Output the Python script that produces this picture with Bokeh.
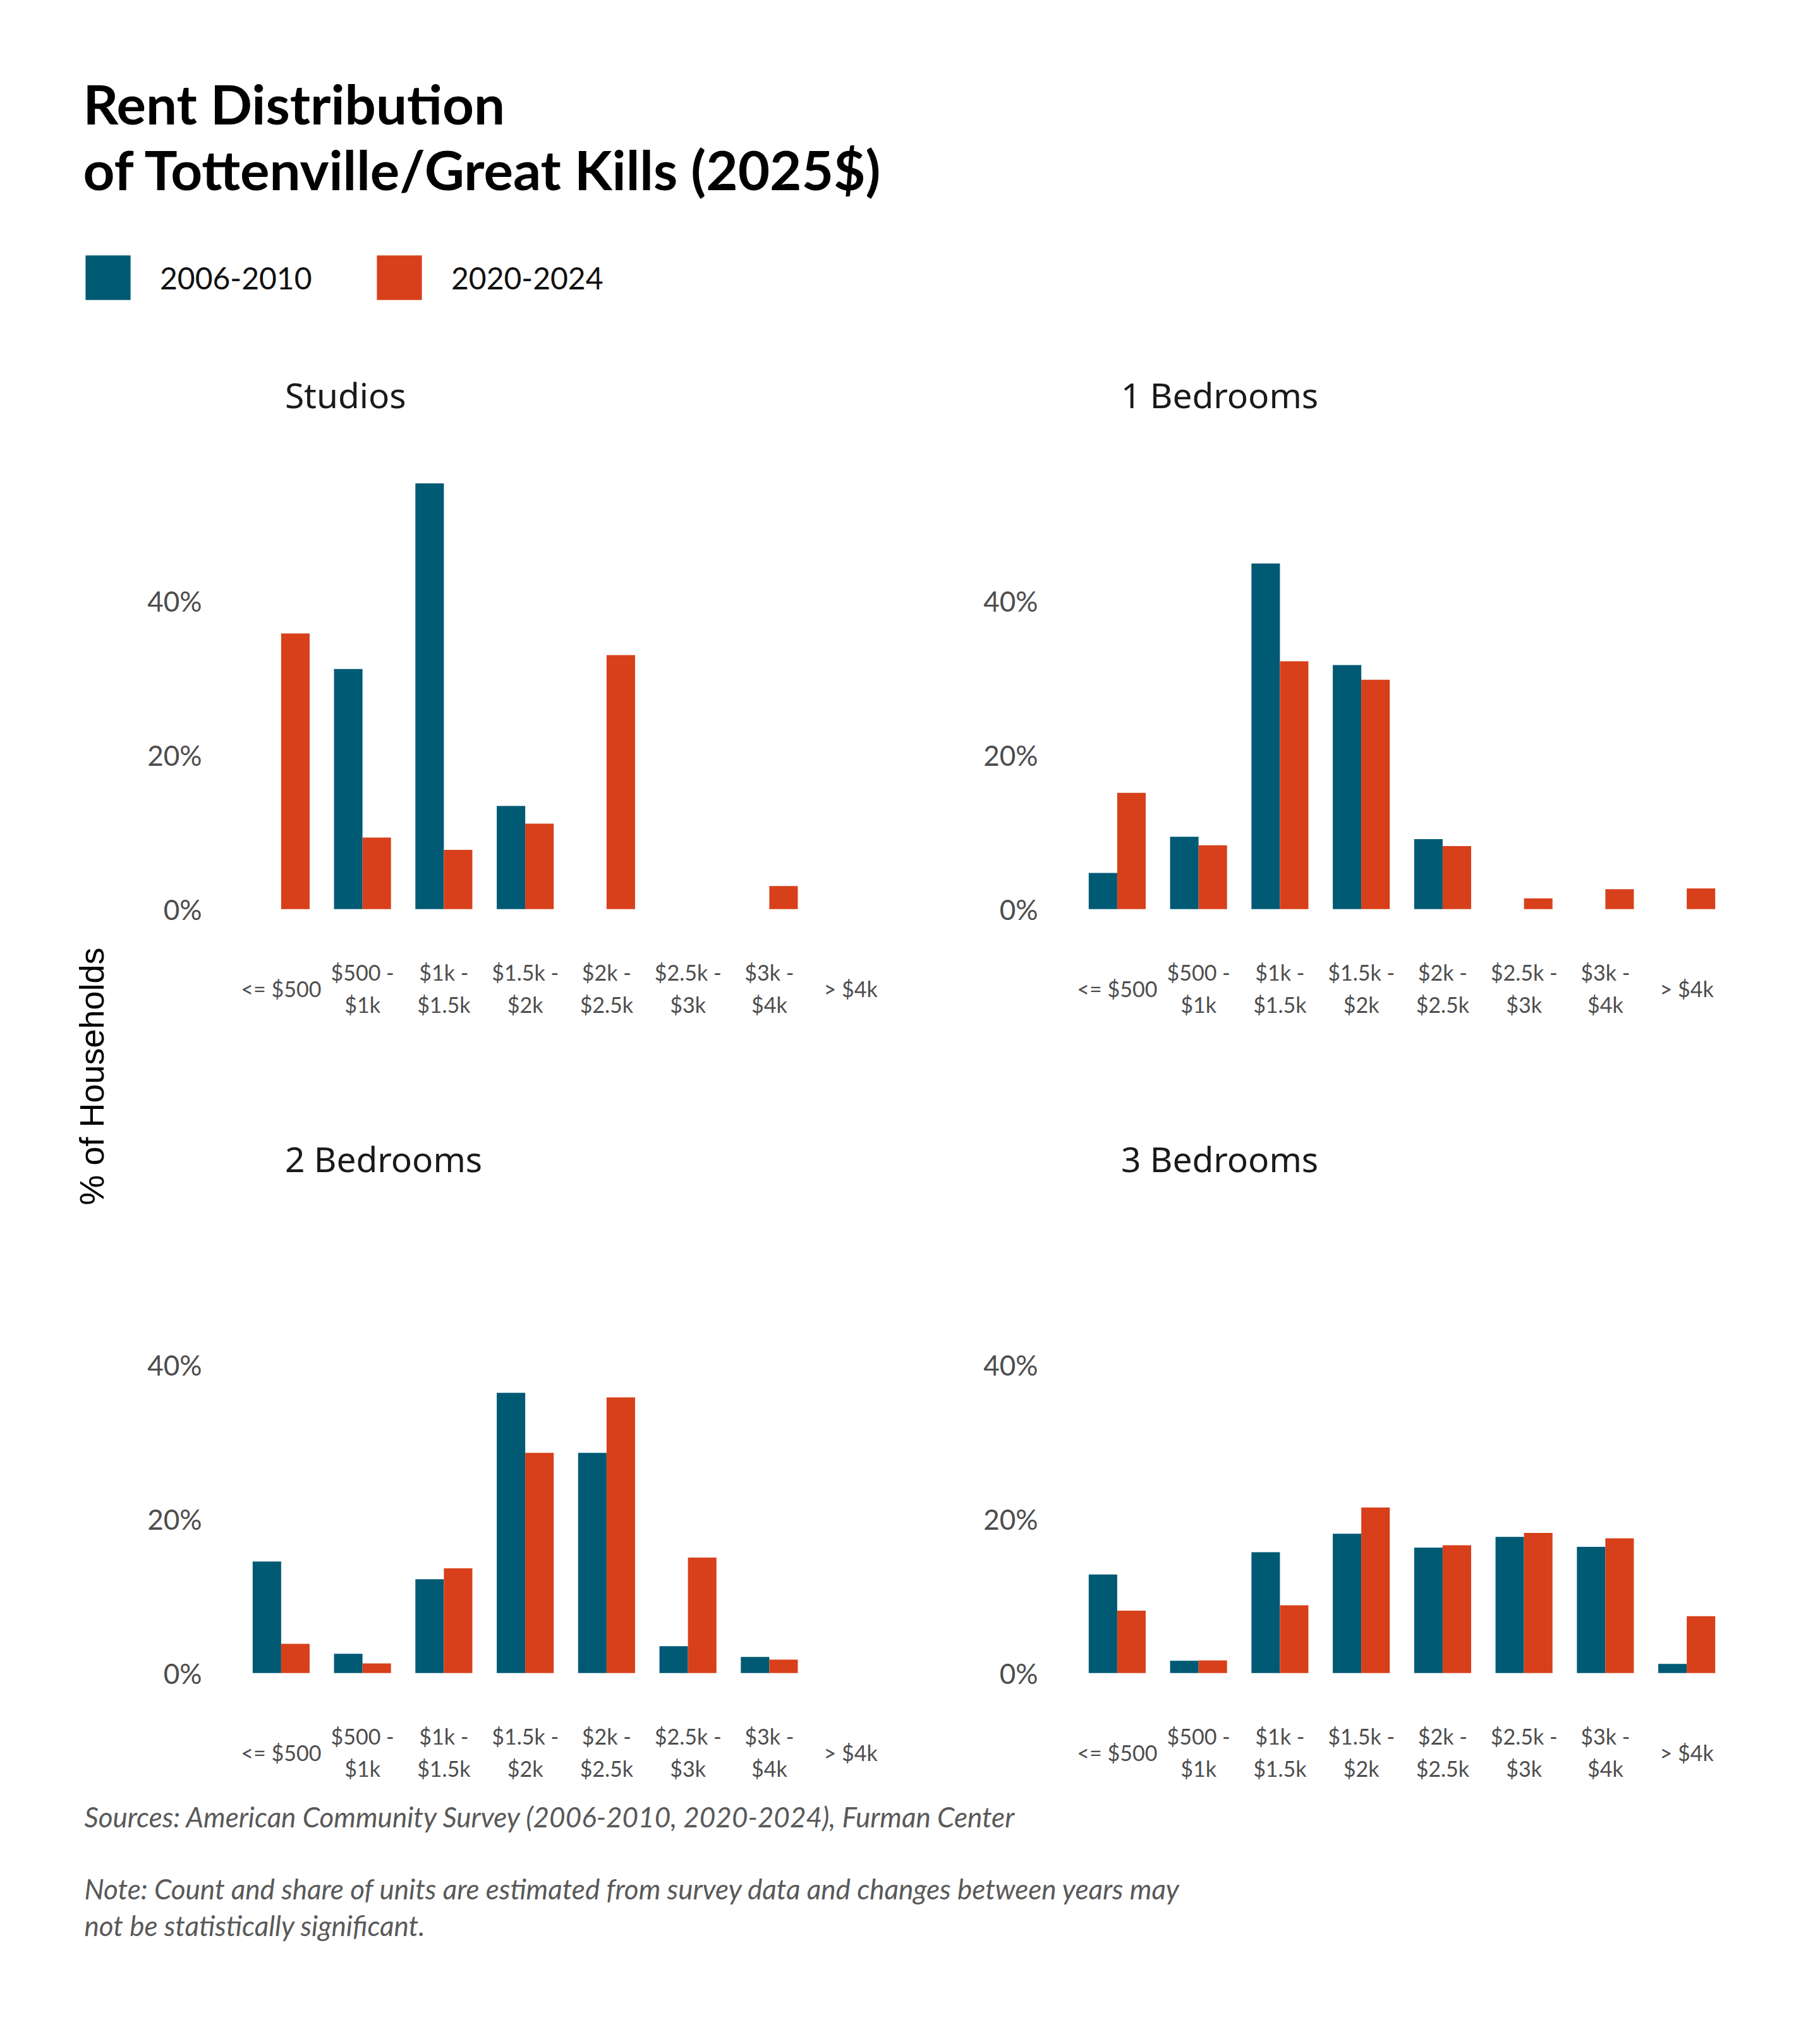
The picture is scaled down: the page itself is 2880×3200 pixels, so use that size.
import math
from bokeh.plotting import figure
from bokeh.models import (Range1d, FactorRange, ColumnDataSource, Label, Legend,
                          LegendItem, FixedTicker)
from bokeh.layouts import row, column
from bokeh.transform import dodge
from bokeh.core.properties import value
from bokeh.embed import file_html
from bokeh.resources import INLINE

# ---------------- data ----------------
categories = ["<= $500", "$500 - $1k", "$1k - $1.5k", "$1.5k - $2k",
              "$2k - $2.5k", "$2.5k - $3k", "$3k - $4k", "> $4k"]
tick_labels = ["<= $500", "$500 -\n$1k", "$1k -\n$1.5k", "$1.5k -\n$2k",
               "$2k -\n$2.5k", "$2.5k -\n$3k", "$3k -\n$4k", "> $4k"]
series_names = ["2006-2010", "2020-2024"]
panel_titles = ["Studios", "1 Bedrooms", "2 Bedrooms", "3 Bedrooms"]

studios_0610 = [0, 31.2, 55.3, 13.4, 0, 0, 0, 0]
studios_2024 = [35.8, 9.3, 7.7, 11.1, 33.0, 0, 3.0, 0]
bed1_0610 = [4.7, 9.4, 44.9, 31.7, 9.1, 0, 0, 0]
bed1_2024 = [15.1, 8.3, 32.2, 29.8, 8.2, 1.4, 2.6, 2.7]
bed2_0610 = [14.5, 2.5, 12.2, 36.4, 28.6, 3.5, 2.1, 0]
bed2_2024 = [3.8, 1.25, 13.6, 28.6, 35.8, 15.0, 1.75, 0]
bed3_0610 = [12.8, 1.6, 15.7, 18.1, 16.3, 17.7, 16.4, 1.2]
bed3_2024 = [8.1, 1.65, 8.8, 21.5, 16.6, 18.2, 17.5, 7.4]

y_ticks = [0, 20, 40]
y_tick_labels = ["0%", "20%", "40%"]

title_lines = ["Rent Distribution", "of Tottenville/Great Kills (2025$)"]
y_title = "% of Households"
source_text = "Sources: American Community Survey (2006-2010, 2020-2024), Furman Center"
note_lines = ["Note: Count and share of units are estimated from survey data and changes between years may",
              "not be statistically significant."]

# ---------------- style ----------------
BLUE = "#005a74"
ORANGE = "#d7401a"
TICK_COLOR = "#4d4d4d"
FONT = "Lato"

PANEL_W = 1323
BORDER_L = 180
BORDER_R = 113
BORDER_T = 24
FRAME_H = 1054
Y0 = -14.5
Y1 = Y0 + 86.5
LABEL_Y = -10.3
TITLE_Y = 66.8


def clean(p):
    p.outline_line_color = None
    p.xgrid.visible = False
    p.ygrid.visible = False
    p.background_fill_color = "white"
    p.border_fill_color = "white"


def panel(title, v_old, v_new, bottom):
    src = ColumnDataSource(dict(cat=categories, old=v_old, new=v_new,
                                lab=tick_labels, ly=[LABEL_Y] * len(categories)))
    p = figure(x_range=FactorRange(factors=categories), y_range=Range1d(Y0, Y1),
               width=PANEL_W, height=BORDER_T + FRAME_H + bottom,
               min_border_left=BORDER_L, min_border_right=BORDER_R,
               min_border_top=BORDER_T, min_border_bottom=bottom,
               output_backend="svg", toolbar_location=None)
    clean(p)
    p.vbar(x=dodge("cat", -0.175, range=p.x_range), top="old", width=0.35,
           source=src, fill_color=BLUE, line_color=None)
    p.vbar(x=dodge("cat", 0.175, range=p.x_range), top="new", width=0.35,
           source=src, fill_color=ORANGE, line_color=None)
    p.text(x="cat", y="ly", text="lab", source=src, text_align="center",
           text_baseline="middle", text_font=value(FONT), text_font_size="34px",
           text_color=TICK_COLOR, text_line_height=1.25)
    p.xaxis.visible = False
    ax = p.yaxis[0]
    ax.ticker = FixedTicker(ticks=y_ticks)
    ax.major_label_overrides = {t: l for t, l in zip(y_ticks, y_tick_labels)}
    ax.axis_line_color = None
    ax.major_tick_line_color = None
    ax.minor_tick_line_color = None
    ax.major_tick_out = 0
    ax.major_tick_in = 0
    ax.major_label_standoff = 61
    ax.major_label_text_font = FONT
    ax.major_label_text_font_size = "44px"
    ax.major_label_text_color = TICK_COLOR
    p.add_layout(Label(x=0.5, y=TITLE_Y, x_offset=6, text=title, text_baseline="middle",
                       text_align="left", text_font="Noto Sans",
                       text_font_size="55px", text_color="#1a1a1a"))
    return p


p1 = panel(panel_titles[0], studios_0610, studios_2024, 131)
p2 = panel(panel_titles[1], bed1_0610, bed1_2024, 131)
p3 = panel(panel_titles[2], bed2_0610, bed2_2024, 10)
p4 = panel(panel_titles[3], bed3_0610, bed3_2024, 10)

# ---------------- header ----------------
HW, HH = 2864, 537
header = figure(width=HW, height=HH, x_range=Range1d(0, HW), y_range=Range1d(HH, 0),
                min_border=0, output_backend="svg", toolbar_location=None)
clean(header)
header.axis.visible = False
for txt, yb in zip(title_lines, [163, 267]):
    header.add_layout(Label(x=131, y=yb, text=txt, text_font=FONT, text_font_style="bold",
                            text_font_size="87px", text_color="#000000",
                            text_baseline="alphabetic"))
legend_src = ColumnDataSource(dict(x=[0], top=[0]))
r_old = header.vbar(x="x", top="top", width=0, source=legend_src,
                    fill_color=BLUE, line_color=None)
r_new = header.vbar(x="x", top="top", width=0, source=legend_src,
                    fill_color=ORANGE, line_color=None)
legend = Legend(items=[LegendItem(label=series_names[0], renderers=[r_old]),
                       LegendItem(label=series_names[1], renderers=[r_new])],
                orientation="horizontal", location=(126, 54),
                glyph_width=89, glyph_height=88, label_standoff=38,
                label_width=272, spacing=62, padding=0, margin=0,
                border_line_color=None, background_fill_alpha=0,
                label_text_font=FONT, label_text_font_size="48px",
                label_text_color="#111111")
header.add_layout(legend)

# ---------------- y title ----------------
YW = 200
YH = (BORDER_T + FRAME_H + 131) + (BORDER_T + FRAME_H + 10)
yfig = figure(width=YW, height=YH, x_range=Range1d(0, YW), y_range=Range1d(YH, 0),
              min_border=0, output_backend="svg", toolbar_location=None)
clean(yfig)
yfig.axis.visible = False
yfig.add_layout(Label(x=144, y=1166, text=y_title, angle=math.pi / 2,
                      text_align="center", text_baseline="middle",
                      text_font="Liberation Sans", text_font_size="54px",
                      text_color="#000000"))

# ---------------- footer ----------------
FH = 3184 - HH - YH
footer = figure(width=HW, height=FH, x_range=Range1d(0, HW), y_range=Range1d(FH, 0),
                min_border=0, output_backend="svg", toolbar_location=None)
clean(footer)
footer.axis.visible = False
for txt, yb in zip([source_text] + note_lines, [40, 154, 212]):
    footer.add_layout(Label(x=133, y=yb, text=txt, text_font=FONT, text_font_style="italic",
                            text_font_size="44px", text_color="#595959",
                            text_baseline="alphabetic"))

layout = column(header, row(yfig, column(row(p1, p2), row(p3, p4))), footer)

open("out.html", "w").write(file_html(layout, INLINE))
